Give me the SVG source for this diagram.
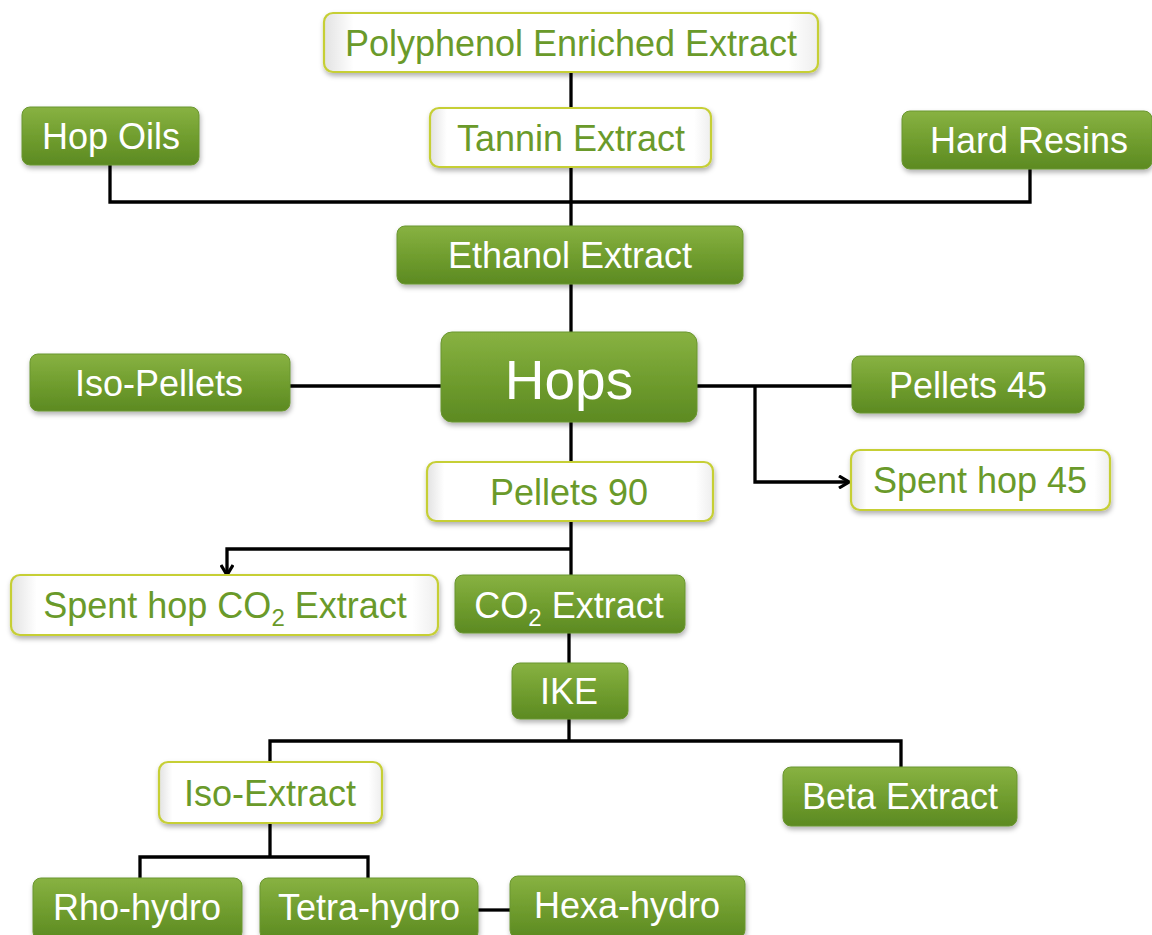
<svg xmlns="http://www.w3.org/2000/svg" width="1152" height="935" viewBox="0 0 1152 935">
<defs>
<linearGradient id="gG" x1="0" y1="0" x2="0" y2="1">
<stop offset="0" stop-color="#88b242"/>
<stop offset="0.5" stop-color="#719e2f"/>
<stop offset="1" stop-color="#5c8a22"/>
</linearGradient>
<linearGradient id="gW" x1="0" y1="0" x2="1" y2="0">
<stop offset="0" stop-color="#e2e2e2"/>
<stop offset="0.06" stop-color="#ffffff"/>
<stop offset="0.94" stop-color="#ffffff"/>
<stop offset="1" stop-color="#eeeeee"/>
</linearGradient>
<filter id="sh" x="-10%" y="-20%" width="120%" height="150%">
<feDropShadow dx="1" dy="3" stdDeviation="2.5" flood-color="#000" flood-opacity="0.3"/>
</filter>
<marker id="arr" viewBox="0 0 14 14" refX="12" refY="7" markerWidth="14" markerHeight="14" markerUnits="userSpaceOnUse" orient="auto">
<polyline points="2,1 12,7 2,13" fill="none" stroke="#000" stroke-width="3.2"/>
</marker>
</defs>
<style>
.g rect{fill:url(#gG);stroke:#6a9630;stroke-width:1;filter:url(#sh)}
.w rect{fill:url(#gW);stroke:#c6cf36;stroke-width:2.2;filter:url(#sh)}
text{font-family:"Liberation Sans",Arial,sans-serif;font-size:36px;text-anchor:middle}
.g text{fill:#ffffff}
.w text{fill:#6a9a2a}
.c path,.c line{stroke:#000;stroke-width:3.3;fill:none}
</style>
<rect width="1152" height="935" fill="#ffffff"/>
<g class="c" id="connectors">
<line x1="571" y1="72" x2="571" y2="108"/>
<line x1="571" y1="167" x2="571" y2="226"/>
<path d="M110 165 V202 H1030 V169"/>
<line x1="571" y1="284" x2="571" y2="332"/>
<line x1="290" y1="386" x2="441" y2="386"/>
<line x1="697" y1="386" x2="852" y2="386"/>
<path d="M755 386 V482 H849" marker-end="url(#arr)"/>
<line x1="571" y1="422" x2="571" y2="462"/>
<line x1="571" y1="521" x2="571" y2="575"/>
<path d="M571 549 H227 V575" marker-end="url(#arr)"/>
<line x1="569" y1="633" x2="569" y2="663"/>
<path d="M270 762 V741 H901 V767"/>
<line x1="569" y1="719" x2="569" y2="741"/>
<path d="M140 878 V857 H368 V878"/>
<line x1="270" y1="823" x2="270" y2="857"/>
<line x1="478" y1="910" x2="510" y2="910"/>
</g>
<g id="polyphenol" class="w"><rect x="324" y="13" width="494" height="59" rx="9"/><text x="571" y="56">Polyphenol Enriched Extract</text></g>
<g id="tannin" class="w"><rect x="430" y="108" width="281" height="59" rx="9"/><text x="571" y="151">Tannin Extract</text></g>
<g id="hop-oils" class="g"><rect x="22" y="107" width="177" height="58" rx="8"/><text x="111" y="149">Hop Oils</text></g>
<g id="hard-resins" class="g"><rect x="902" y="111" width="250" height="58" rx="8"/><text x="1029" y="153">Hard Resins</text></g>
<g id="ethanol" class="g"><rect x="397" y="226" width="346" height="58" rx="8"/><text x="570" y="268">Ethanol Extract</text></g>
<g id="hops" class="g"><rect x="441" y="332" width="256" height="90" rx="11"/><text x="569" y="399" style="font-size:55px">Hops</text></g>
<g id="iso-pellets" class="g"><rect x="30" y="354" width="260" height="57" rx="8"/><text x="159" y="396">Iso-Pellets</text></g>
<g id="pellets45" class="g"><rect x="852" y="356" width="232" height="57" rx="8"/><text x="968" y="398">Pellets 45</text></g>
<g id="spent45" class="w"><rect x="851" y="450" width="259" height="60" rx="9"/><text x="980" y="493">Spent hop 45</text></g>
<g id="pellets90" class="w"><rect x="427" y="462" width="286" height="59" rx="9"/><text x="569" y="505">Pellets 90</text></g>
<g id="spent-co2" class="w"><rect x="11" y="575" width="427" height="60" rx="9"/><text x="225" y="618">Spent hop CO<tspan dy="8" style="font-size:24px">2</tspan><tspan dy="-8"> Extract</tspan></text></g>
<g id="co2" class="g"><rect x="455" y="575" width="230" height="58" rx="8"/><text x="569" y="618">CO<tspan dy="8" style="font-size:24px">2</tspan><tspan dy="-8"> Extract</tspan></text></g>
<g id="ike" class="g"><rect x="512" y="663" width="116" height="56" rx="8"/><text x="569" y="704">IKE</text></g>
<g id="iso-extract" class="w"><rect x="159" y="762" width="223" height="61" rx="9"/><text x="270" y="806">Iso-Extract</text></g>
<g id="beta" class="g"><rect x="783" y="767" width="234" height="59" rx="8"/><text x="900" y="809">Beta Extract</text></g>
<g id="rho" class="g"><rect x="33" y="878" width="209" height="62" rx="8"/><text x="137" y="920">Rho-hydro</text></g>
<g id="tetra" class="g"><rect x="260" y="878" width="218" height="62" rx="8"/><text x="369" y="920">Tetra-hydro</text></g>
<g id="hexa" class="g"><rect x="510" y="876" width="235" height="62" rx="8"/><text x="627" y="918">Hexa-hydro</text></g>
</svg>
